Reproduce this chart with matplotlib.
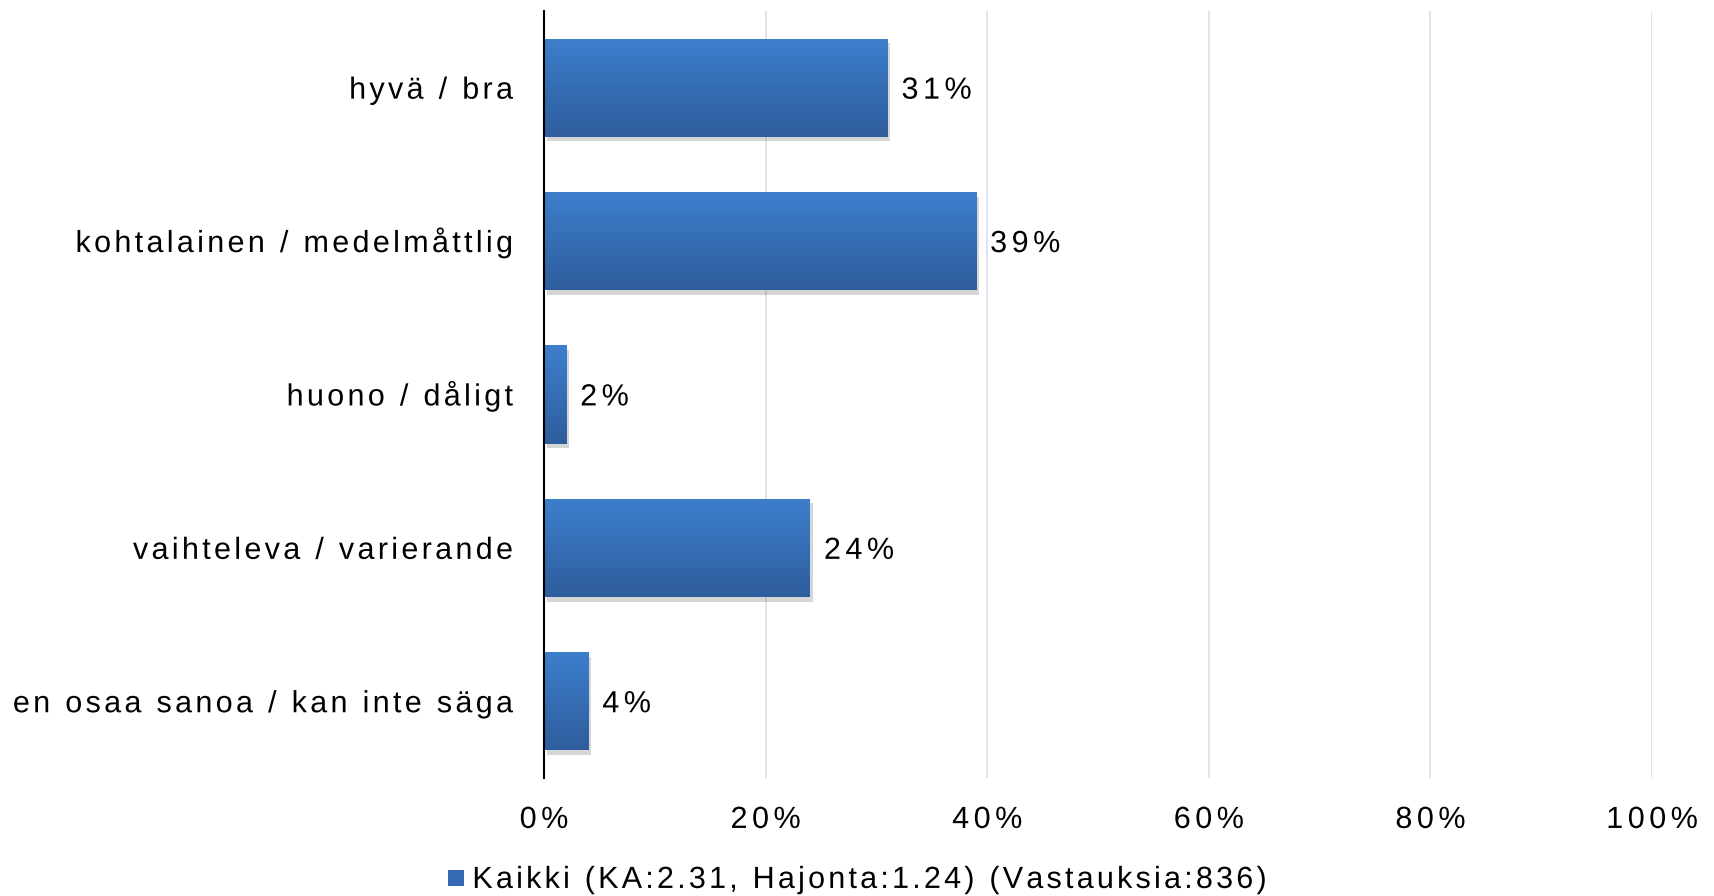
import matplotlib
matplotlib.use("Agg")
import matplotlib.pyplot as plt
import numpy as np
from matplotlib.colors import LinearSegmentedColormap
from matplotlib.patches import Rectangle, PathPatch
from matplotlib.textpath import TextPath
from matplotlib.path import Path
from matplotlib.transforms import Affine2D, ScaledTranslation
from matplotlib.font_manager import FontProperties, findfont, get_font
try:
    from matplotlib.ft2font import LoadFlags
    NOHINT = LoadFlags.NO_HINTING
except Exception:
    NOHINT = 2

categories = ["hyvä / bra", "kohtalainen / medelmåttlig", "huono / dåligt",
              "vaihteleva / varierande", "en osaa sanoa / kan inte säga"]
values = [31, 39, 2, 24, 4]
xticks = [0, 20, 40, 60, 80, 100]
xticklabels = ["0%", "20%", "40%", "60%", "80%", "100%"]
legend_label = "Kaikki (KA:2.31, Hajonta:1.24) (Vastauksia:836)"

plt.rcParams['font.family'] = ['Liberation Sans', 'DejaVu Sans']
FP = FontProperties(family="Liberation Sans")
_font = get_font(findfont(FP))
_font.set_size(100, 72)


def advance(c):
    g = _font.load_char(ord(c), flags=NOHINT)
    return g.linearHoriAdvance / 65536 / 100.0


def spaced_text(artist_parent, x, y, s, anchor_trans, size_pt=22, spacing=3.3,
                ha="left", dx=0.0, dy=0.0, color="#000000"):
    px = size_pt * 100 / 72.0
    advs = [advance(c) * px for c in s]
    total = sum(advs) + spacing * (len(s) - 1)
    x0 = {"left": 0.0, "right": -total, "center": -total / 2}[ha]
    paths = []
    xp = 0.0
    for c, a in zip(s, advs):
        if c != " ":
            p = TextPath((xp, 0), c, size=px, prop=FP)
            if len(p.vertices):
                paths.append(p)
        xp += a + spacing
    path = Path.make_compound_path(*paths)
    base = dy - 0.358 * px
    tr = Affine2D().translate(x0 + dx, base) + ScaledTranslation(x, y, anchor_trans)
    patch = PathPatch(path, transform=tr, facecolor=color, edgecolor="none",
                      lw=0, clip_on=False)
    artist_parent.add_artist(patch)
    return total


fig = plt.figure(figsize=(17.15, 8.96), dpi=100)
ax = fig.add_axes([0.3172, 0.1317, 0.9633 - 0.3172, 0.9877 - 0.1317])

y = np.arange(len(categories))
h = 0.64
cmap = LinearSegmentedColormap.from_list("g", ["#3d7fcd", "#2e5d9c"])
grad = np.linspace(0, 1, 256).reshape(-1, 1)

ax.set_xlim(0, 100)
ax.set_ylim(len(categories) - 0.5, -0.5)

bars = ax.barh(y, values, height=h, color="none", edgecolor="none", zorder=3)
for b, v, yi in zip(bars, values, y):
    x0, y0 = b.get_x(), b.get_y()
    w, hh = b.get_width(), b.get_height()
    ax.add_patch(Rectangle((x0 + 0.25, y0 + 0.03), w, hh, facecolor="#000000",
                           alpha=0.16, edgecolor="none", zorder=2))
    im = ax.imshow(grad, extent=(x0, x0 + w, y0 + hh, y0), cmap=cmap,
                   aspect="auto", zorder=3, interpolation="bilinear")
    im.set_clip_path(b)
    spaced_text(ax, x0 + w, yi, f"{v}%", ax.transData, spacing=4.5, dx=14)

ax.set_xticks(xticks)
ax.set_xticklabels([])
ax.set_yticks(y)
ax.set_yticklabels([])
ax.tick_params(axis="both", length=0)
for xt, lab in zip(xticks, xticklabels):
    spaced_text(ax, xt, 0, lab, ax.get_xaxis_transform(), spacing=4.5,
                ha="center", dy=-39)
for yi, lab in zip(y, categories):
    spaced_text(ax, 0, yi, lab, ax.get_yaxis_transform(), spacing=3.3,
                ha="right", dx=-31)

ax.grid(axis="x", color="#dae4ef", linewidth=1.3, zorder=0)
ax.set_axisbelow(True)
for s in ["top", "right", "bottom"]:
    ax.spines[s].set_visible(False)
ax.spines["left"].set_color("#000000")
ax.spines["left"].set_linewidth(1.5)
ax.spines["left"].set_zorder(5)
ax.set_ylim(len(categories) - 0.5, -0.5)

# legend
W, H = 1715, 896
fs_px = 22 * 100 / 72.0
leg_w = sum(advance(c) * fs_px for c in legend_label) + 3.2 * (len(legend_label) - 1)
sq = 16
gap = 8
start = W / 2 - (sq + gap + leg_w) / 2
leg_ax_trans = fig.transFigure
fig.patches.append(Rectangle((start / W, 10 / H), sq / W, sq / H,
                             transform=fig.transFigure, facecolor="#3469b3",
                             edgecolor="none"))
spaced_text(fig, (start + sq + gap) / W, 19 / H, legend_label, fig.transFigure,
            spacing=3.2, ha="left")

fig.savefig("out.png", dpi=100)
